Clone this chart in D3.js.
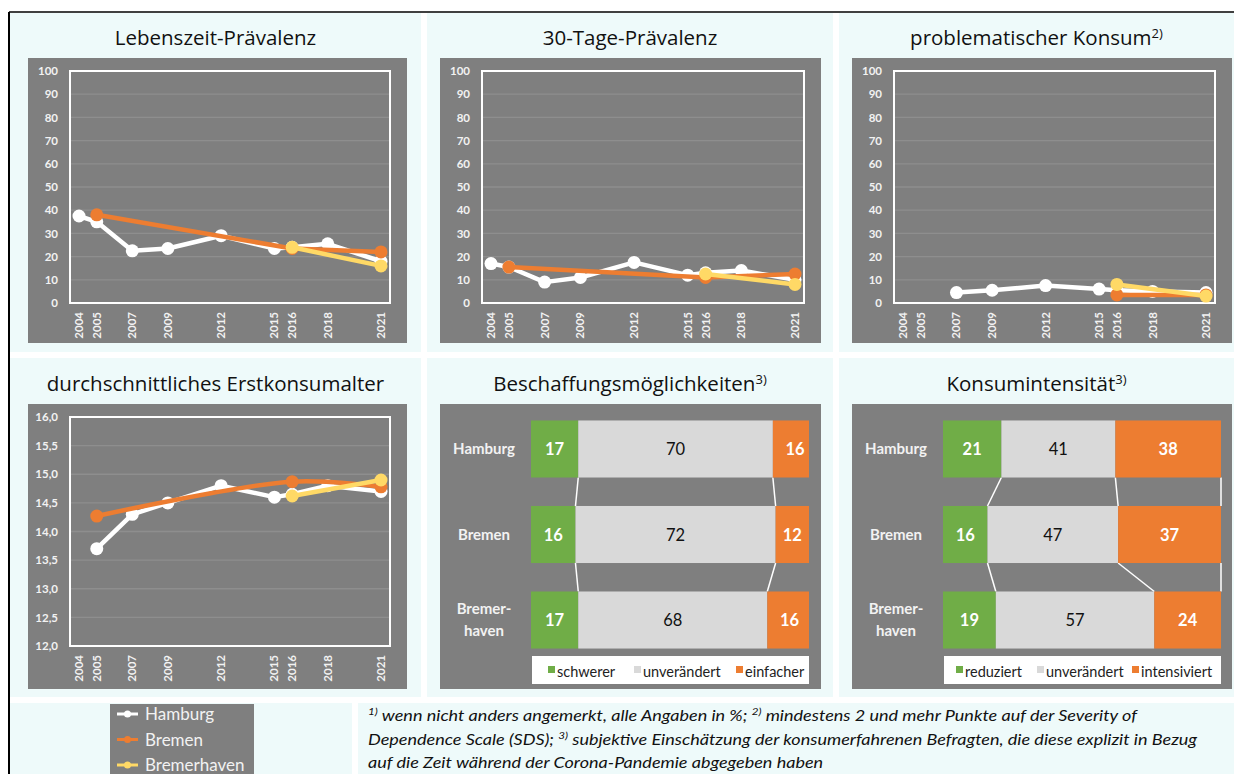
<!DOCTYPE html>
<html>
<head>
<meta charset="utf-8">
<script src="https://d3js.org/d3.v7.min.js"></script>
<style>
  body { margin: 0; background: #ffffff; }
  svg { display: block; font-family: Lato, "Open Sans", sans-serif; }
</style>
</head>
<body>
<div id="chart"></div>
<script>
// survey years (x axis of the line charts)
var years = [2004, 2005, 2007, 2009, 2012, 2015, 2016, 2018, 2021];
var cities = ["Hamburg", "Bremen", "Bremerhaven"];

// Lebenszeit-Prävalenz (%)
var lifeHamburg     = [37.5, 35, 22.5, 23.5, 29, 23.5, 24, 25.5, 18];
var lifeBremen      = [null, 38, null, null, null, null, 23.5, null, 22];
var lifeBremerhaven = [null, null, null, null, null, null, 24, null, 16];

// 30-Tage-Prävalenz (%)
var monthHamburg     = [17, 15.5, 9, 11, 17.5, 12, 13, 14, 10];
var monthBremen      = [null, 15.5, null, null, null, null, 11, null, 12.5];
var monthBremerhaven = [null, null, null, null, null, null, 12.5, null, 8];

// problematischer Konsum (%)
var probHamburg     = [null, null, 4.5, 5.5, 7.5, 6, 5.5, 5, 4.5];
var probBremen      = [null, null, null, null, null, null, 3.5, null, 3.5];
var probBremerhaven = [null, null, null, null, null, null, 8, null, 3];

// durchschnittliches Erstkonsumalter (Jahre)
var ageHamburg     = [null, 13.7, 14.3, 14.5, 14.8, 14.6, 14.65, 14.8, 14.7];
var ageBremen      = [null, 14.27, null, null, null, null, 14.87, null, 14.78];
var ageBremerhaven = [null, null, null, null, null, null, 14.62, null, 14.9];

// Beschaffungsmöglichkeiten (%): schwerer / unverändert / einfacher
var supplyKeys = ["schwerer", "unverändert", "einfacher"];
var supplyLess = [17, 16, 17];
var supplySame = [70, 72, 68];
var supplyMore = [16, 12, 16];

// Konsumintensität (%): reduziert / unverändert / intensiviert
var intensKeys = ["reduziert", "unverändert", "intensiviert"];
var intensLess = [21, 16, 19];
var intensSame = [41, 47, 57];
var intensMore = [38, 37, 24];

var cityColor = { "Hamburg": "#ffffff", "Bremen": "#ed7d31", "Bremerhaven": "#ffd966" };
var barColors = ["#70ad47", "#d9d9d9", "#ed7d31"];
var grey = "#7f7f7f";

var svg = d3.select("#chart").append("svg")
    .attr("width", 1234)
    .attr("height", 774);

// panel grid
var cols = [[10, 421], [427, 833], [839, 1234]];
var rows = [[13, 352], [358, 697]];
var greyCols = [[28, 407], [440, 821], [852, 1232]];
var greyRows = [[58, 343], [404, 689]];

rows.forEach(function(r) {
    cols.forEach(function(c) {
        svg.append("rect")
            .attr("x", c[0]).attr("y", r[0])
            .attr("width", c[1] - c[0]).attr("height", r[1] - r[0])
            .attr("fill", "#eefafa");
    });
});
// bottom row: legend + footnote
svg.append("rect").attr("x", 10).attr("y", 703).attr("width", 342).attr("height", 71).attr("fill", "#eefafa");
svg.append("rect").attr("x", 358).attr("y", 703).attr("width", 876).attr("height", 71).attr("fill", "#eefafa");

// outer black border (left and top)
svg.append("line").attr("x1", 9).attr("x2", 1234).attr("y1", 12).attr("y2", 12).attr("stroke", "#000").attr("stroke-width", 1.5);
svg.append("line").attr("x1", 9).attr("x2", 9).attr("y1", 12).attr("y2", 774).attr("stroke", "#000").attr("stroke-width", 2);

function title(col, row, txt, sup) {
    var cx = (cols[col][0] + cols[col][1]) / 2;
    var y = row === 0 ? 45 : 391;
    var t = svg.append("text")
        .attr("x", cx).attr("y", y)
        .attr("text-anchor", "middle")
        .attr("font-family", "'Open Sans', sans-serif")
        .attr("font-size", 20.5)
        .attr("fill", "#111");
    t.append("tspan").text(txt);
    if (sup) {
        t.append("tspan").attr("font-size", 13).attr("baseline-shift", "7").text(sup);
    }
}

function linePanel(col, row, series, yDomain, yStep, fmt, smoothBremen) {
    var gx = greyCols[col], gy = greyRows[row];
    svg.append("rect")
        .attr("x", gx[0]).attr("y", gy[0])
        .attr("width", gx[1] - gx[0]).attr("height", gy[1] - gy[0])
        .attr("fill", grey);

    var left = gx[0] + 42, right = gx[1] - 17;
    var top = gy[0] + 13, bottom = gy[0] + (row === 0 ? 245 : 242);

    var x = d3.scaleLinear().domain([2004, 2021]).range([left + 9, right - 9]);
    var y = d3.scaleLinear().domain(yDomain).range([bottom, top]);
    var ticks = d3.range(yDomain[0], yDomain[1] + yStep / 2, yStep);

    var g = svg.append("g");
    // gridlines
    g.selectAll(".grid").data(ticks).enter().append("line")
        .attr("x1", left).attr("x2", right)
        .attr("y1", function(d) { return y(d); })
        .attr("y2", function(d) { return y(d); })
        .attr("stroke", "#8e8e8e").attr("stroke-width", 1.3);
    // frame
    g.append("rect")
        .attr("x", left).attr("y", top)
        .attr("width", right - left).attr("height", bottom - top)
        .attr("fill", "none").attr("stroke", "#ffffff").attr("stroke-width", 2);

    // y axis labels
    var yAxis = d3.axisLeft(y).tickValues(ticks).tickSize(0).tickPadding(12).tickFormat(fmt);
    var ya = g.append("g").attr("transform", "translate(" + left + ",0)").call(yAxis);
    ya.select(".domain").remove();
    ya.selectAll("text").attr("fill", "#f2f2f2").attr("font-size", 11.5).attr("font-weight", "bold")
        .attr("font-family", "Lato, sans-serif");

    // x axis labels (rotated)
    g.selectAll(".xl").data(years).enter().append("text")
        .attr("transform", function(d) { return "translate(" + (x(d) + 4) + "," + (bottom + 9) + ") rotate(-90)"; })
        .attr("text-anchor", "end")
        .attr("fill", "#f2f2f2").attr("font-size", 11.5).attr("font-weight", "bold")
        .text(function(d) { return d; });

    series.forEach(function(vals, si) {
        var city = cities[si];
        var pts = years.map(function(yr, i) { return { yr: yr, v: vals[i] }; })
            .filter(function(d) { return d.v != null; });
        var line = d3.line()
            .x(function(d) { return x(d.yr); })
            .y(function(d) { return y(d.v); });
        if (smoothBremen && city === "Bremen") line.curve(d3.curveCatmullRom.alpha(0.5));
        g.append("path").datum(pts)
            .attr("d", line)
            .attr("fill", "none")
            .attr("stroke", cityColor[city])
            .attr("stroke-width", 4.5)
            .attr("stroke-linejoin", "round");
        g.selectAll(".m" + si).data(pts).enter().append("circle")
            .attr("cx", function(d) { return x(d.yr); })
            .attr("cy", function(d) { return y(d.v); })
            .attr("r", 6.5)
            .attr("fill", cityColor[city]);
    });
}

function barPanel(col, keys, less, same, more) {
    var gx = greyCols[col], gy = greyRows[1];
    svg.append("rect")
        .attr("x", gx[0]).attr("y", gy[0])
        .attr("width", gx[1] - gx[0]).attr("height", gy[1] - gy[0])
        .attr("fill", grey);

    var x = d3.scaleLinear().domain([0, 100]).range([gx[0] + 91, gx[0] + 369]);
    var yb = d3.scaleBand().domain(cities).range([392, 677]).paddingInner(0.333).paddingOuter(0.333);

    var clipId = "clip" + col;
    svg.append("clipPath").attr("id", clipId).append("rect")
        .attr("x", x(0)).attr("y", gy[0]).attr("width", x(100) - x(0)).attr("height", gy[1] - gy[0]);

    var g = svg.append("g");
    var rowsData = cities.map(function(c, i) {
        var vals = [less[i], same[i], more[i]];
        var cum = 0;
        return vals.map(function(v, k) {
            var s = { city: c, k: k, v: v, x0: cum, x1: cum + v };
            cum += v;
            return s;
        });
    });

    // series lines between bars
    for (var i = 0; i < cities.length - 1; i++) {
        for (var k = 0; k < 3; k++) {
            var a = rowsData[i][k].x1, b = rowsData[i + 1][k].x1;
            if (a > 100 || b > 100) continue;
            g.append("line")
                .attr("x1", x(a)).attr("y1", yb(cities[i]) + yb.bandwidth())
                .attr("x2", x(b)).attr("y2", yb(cities[i + 1]))
                .attr("stroke", "#ffffff").attr("stroke-width", 1.5);
        }
    }

    var bars = g.append("g").attr("clip-path", "url(#" + clipId + ")");
    rowsData.forEach(function(segs) {
        bars.selectAll(null).data(segs).enter().append("rect")
            .attr("x", function(d) { return x(d.x0); })
            .attr("y", function(d) { return yb(d.city); })
            .attr("width", function(d) { return x(d.x1) - x(d.x0); })
            .attr("height", yb.bandwidth())
            .attr("fill", function(d) { return barColors[d.k]; });
        g.selectAll(null).data(segs).enter().append("text")
            .attr("x", function(d) { return x((d.x0 + d.x1) / 2); })
            .attr("y", function(d) { return yb(d.city) + yb.bandwidth() / 2 + 6; })
            .attr("text-anchor", "middle")
            .attr("font-size", 16.5)
            .attr("font-weight", function(d) { return d.k === 1 ? "normal" : "bold"; })
            .attr("fill", function(d) { return d.k === 1 ? "#111" : "#ffffff"; })
            .text(function(d) { return d.v; });
    });

    // category labels
    var lx = gx[0] + 44;
    cities.forEach(function(c) {
        var cy = yb(c) + yb.bandwidth() / 2;
        var t = g.append("text").attr("x", lx).attr("text-anchor", "middle")
            .attr("fill", "#f2f2f2").attr("font-size", 15).attr("font-weight", "bold");
        if (c === "Bremerhaven") {
            t.append("tspan").attr("x", lx).attr("y", cy - 6).text("Bremer-");
            t.append("tspan").attr("x", lx).attr("y", cy + 16).text("haven");
        } else {
            t.attr("y", cy + 5).text(c);
        }
    });

    // legend box
    var lg = g.append("g");
    lg.append("rect").attr("x", x(0) + 1).attr("y", 656).attr("width", x(100) - x(0) - 1).attr("height", 28)
        .attr("fill", "#ffffff");
    var itemX = col === 1 ? [548, 634, 736] : [956, 1037, 1132];
    keys.forEach(function(key, k) {
        lg.append("rect").attr("x", itemX[k]).attr("y", 666).attr("width", 7).attr("height", 7)
            .attr("fill", barColors[k]);
        lg.append("text").attr("x", itemX[k] + 9).attr("y", 677)
            .attr("font-size", 14.5).attr("fill", "#222").text(key);
    });
}

title(0, 0, "Lebenszeit-Prävalenz");
title(1, 0, "30-Tage-Prävalenz");
title(2, 0, "problematischer Konsum", "2)");
title(0, 1, "durchschnittliches Erstkonsumalter");
title(1, 1, "Beschaffungsmöglichkeiten", "3)");
title(2, 1, "Konsumintensität", "3)");

var fmtInt = d3.format("d");
var fmtAge = function(d) { return d3.format(".1f")(d).replace(".", ","); };

linePanel(0, 0, [lifeHamburg, lifeBremen, lifeBremerhaven], [0, 100], 10, fmtInt, false);
linePanel(1, 0, [monthHamburg, monthBremen, monthBremerhaven], [0, 100], 10, fmtInt, false);
linePanel(2, 0, [probHamburg, probBremen, probBremerhaven], [0, 100], 10, fmtInt, false);
linePanel(0, 1, [ageHamburg, ageBremen, ageBremerhaven], [12, 16], 0.5, fmtAge, true);
barPanel(1, supplyKeys, supplyLess, supplySame, supplyMore);
barPanel(2, intensKeys, intensLess, intensSame, intensMore);

// city legend
var leg = svg.append("g");
leg.append("rect").attr("x", 110).attr("y", 704).attr("width", 144).attr("height", 70).attr("fill", grey);
cities.forEach(function(c, i) {
    var cy = 714 + i * 25.5;
    leg.append("line").attr("x1", 117).attr("x2", 138).attr("y1", cy).attr("y2", cy)
        .attr("stroke", cityColor[c]).attr("stroke-width", 3);
    leg.append("circle").attr("cx", 127.5).attr("cy", cy).attr("r", 3.5).attr("fill", cityColor[c]);
    leg.append("text").attr("x", 145).attr("y", cy + 6).attr("font-size", 17)
        .attr("fill", "#f2f2f2").text(c);
});

// footnote
var notes = [
    [["1)", true], [" wenn nicht anders angemerkt, alle Angaben in %; ", false], ["2)", true], [" mindestens 2 und mehr Punkte auf der Severity of", false]],
    [["Dependence Scale (SDS); ", false], ["3)", true], [" subjektive Einschätzung der konsumerfahrenen Befragten, die diese explizit in Bezug", false]],
    [["auf die Zeit während der Corona-Pandemie abgegeben haben", false]]
];
var noteTexts = notes.map(function(parts, i) {
    var t = svg.append("text")
        .attr("x", 368).attr("y", 721 + i * 23.5)
        .attr("font-size", 15.5).attr("font-style", "italic").attr("fill", "#111");
    parts.forEach(function(p) {
        var s = t.append("tspan").text(p[0]);
        if (p[1]) s.attr("font-size", 10).attr("baseline-shift", "6");
    });
    return t;
});
// squeeze/stretch all lines by the factor that makes line 1 end where it does in the original
var natural = noteTexts[0].node().getComputedTextLength();
var factor = 769 / natural;
noteTexts.forEach(function(t) {
    var w = t.node().getComputedTextLength();
    t.attr("textLength", w * factor).attr("lengthAdjust", "spacingAndGlyphs");
});
</script>
</body>
</html>
